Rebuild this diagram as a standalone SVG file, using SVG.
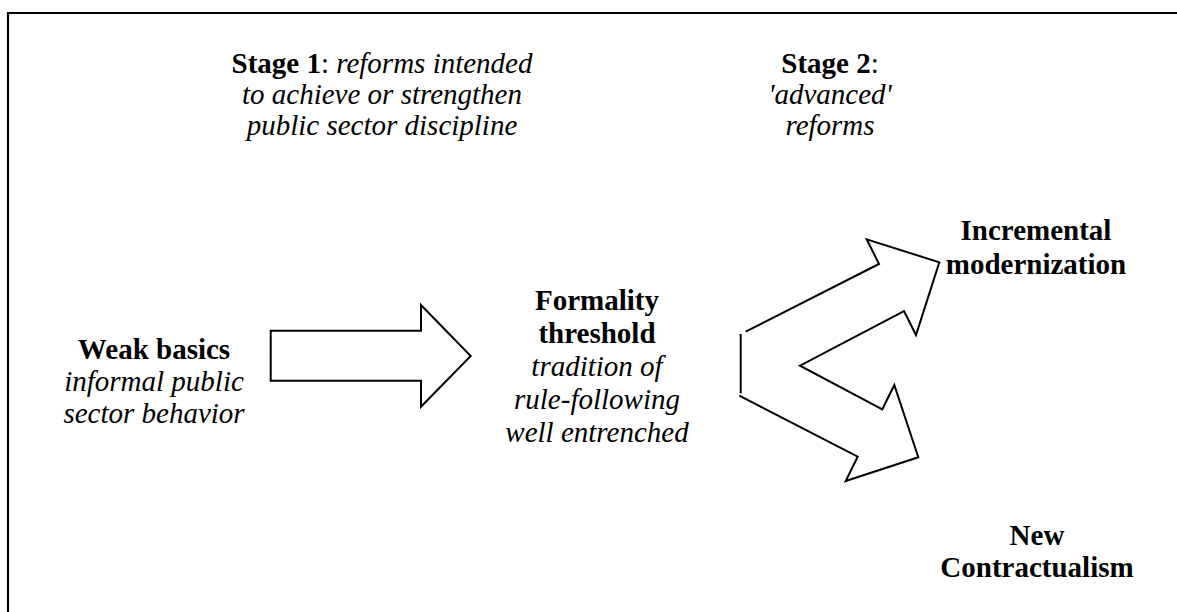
<svg xmlns="http://www.w3.org/2000/svg" width="1177" height="612" viewBox="0 0 1177 612">
  <style>
    .t { font-family: "Liberation Serif", "Times New Roman", serif; font-size: 29px; fill: #000; text-anchor: middle; }
    .b { font-weight: bold; }
    .i { font-style: italic; }
    .shape { fill: #fff; stroke: #000; stroke-width: 2; stroke-linejoin: miter; }
    .frame { fill: none; stroke: #000; stroke-width: 2.2; }
  </style>
  <rect width="1177" height="612" fill="#fff"/>
  <path class="frame" d="M8,612 V13 H1177"/>

  <g id="stage1">
    <text class="t" x="382" y="73"><tspan class="b">Stage 1</tspan>: <tspan class="i">reforms intended</tspan></text>
    <text class="t i" x="382" y="104">to achieve or strengthen</text>
    <text class="t i" x="382" y="135">public sector discipline</text>
  </g>

  <g id="stage2">
    <text class="t" x="830" y="73"><tspan class="b">Stage 2</tspan>:</text>
    <text class="t i" x="830" y="104">'advanced'</text>
    <text class="t i" x="830" y="135">reforms</text>
  </g>

  <g id="weak-basics">
    <text class="t b" x="154" y="359">Weak basics</text>
    <text class="t i" x="154" y="391">informal public</text>
    <text class="t i" x="154" y="423">sector behavior</text>
  </g>

  <g id="formality-threshold">
    <text class="t b" x="597" y="310">Formality</text>
    <text class="t b" x="597" y="343">threshold</text>
    <text class="t i" x="597" y="376">tradition of</text>
    <text class="t i" x="597" y="409">rule-following</text>
    <text class="t i" x="597" y="442">well entrenched</text>
  </g>

  <g id="incremental-modernization">
    <text class="t b" x="1036" y="240">Incremental</text>
    <text class="t b" x="1036" y="274">modernization</text>
  </g>

  <g id="new-contractualism">
    <text class="t b" x="1037" y="545">New</text>
    <text class="t b" x="1037" y="577">Contractualism</text>
  </g>

  <g id="connectors">
    <polygon class="shape" points="270.7,330.7 421,330.7 421,305 470.7,356 421,406.7 421,380.7 270.7,380.7"/>
    <path class="shape" d="M745.7,331.7 L879,264 L866.7,239.3 L939.3,262.3 L916,335 L904,311 L800,365.7 L882.3,409.3 L894.3,385 L918.3,457.3 L845.7,481 L857.7,456.7 L739.3,395.7 M740.7,334 V393.3" fill="none"/>
  </g>
</svg>
